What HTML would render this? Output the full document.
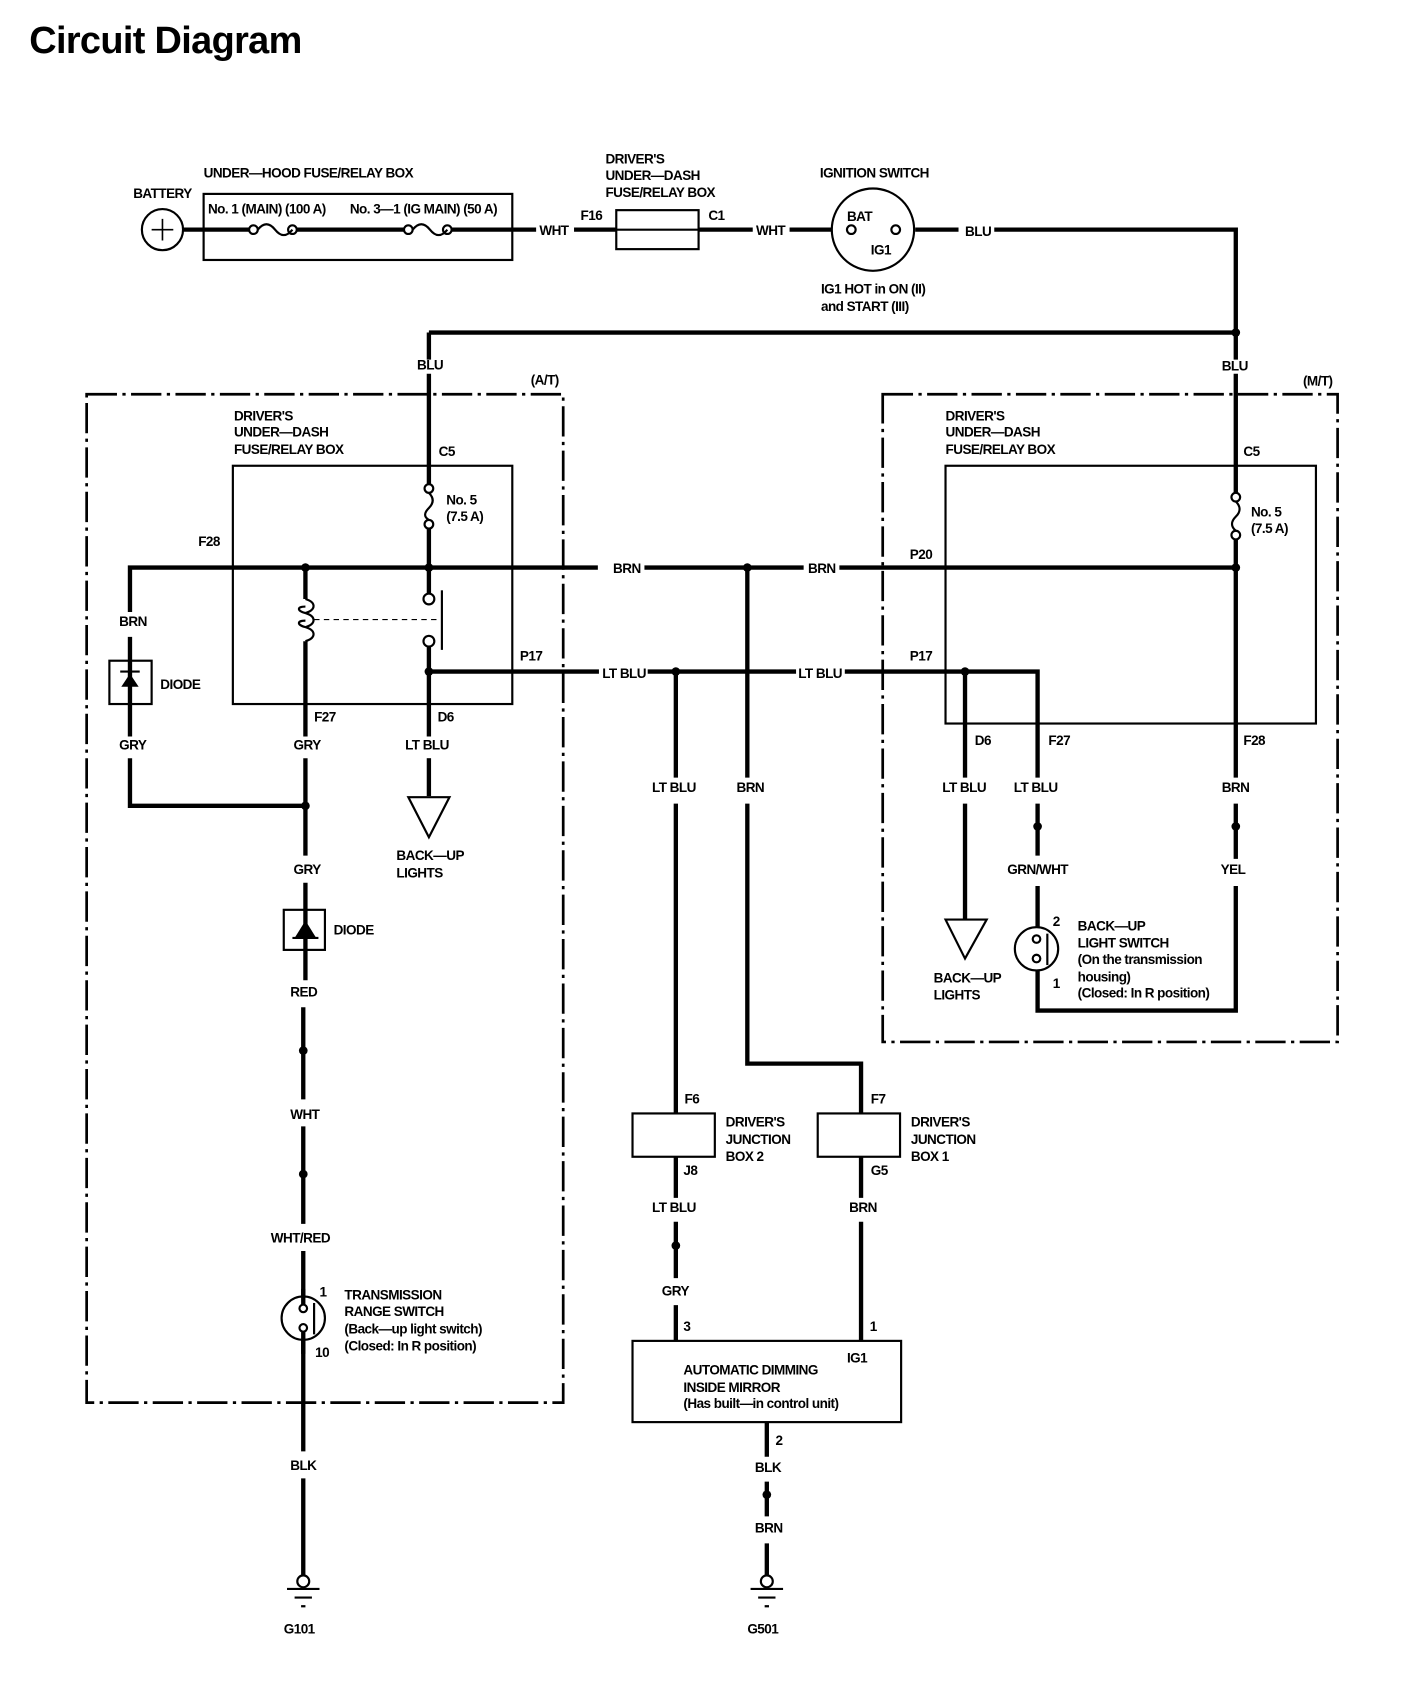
<!DOCTYPE html>
<html><head><meta charset="utf-8"><style>
html,body{margin:0;padding:0;background:#fff;}
svg{display:block;}
text{font-family:"Liberation Sans Narrow","Liberation Sans",sans-serif;font-weight:bold;font-size:12.5px;fill:#000;letter-spacing:-0.5px;}
.w{stroke:#000;stroke-width:4;fill:none;}
.t{stroke:#000;stroke-width:2;fill:none;}
.d{stroke:#000;stroke-width:2.5;fill:none;stroke-dasharray:28,5,3,5;}
</style></head><body>
<svg width="1408" height="1694" viewBox="0 0 1300 1564" xmlns="http://www.w3.org/2000/svg">
<text x="27" y="49" style="font-family:'Liberation Sans',sans-serif;font-size:35px;letter-spacing:-0.6px">Circuit Diagram</text>

<text x="123" y="183">BATTERY</text>
<circle cx="150" cy="212" r="19" class="t"/>
<path d="M140 212h20M150 202v20" stroke="#000" stroke-width="1.5"/>
<text x="188" y="164">UNDER—HOOD FUSE/RELAY BOX</text>
<rect x="188" y="179" width="285" height="61" class="t"/>
<text x="192" y="197">No. 1 (MAIN) (100 A)</text>
<text x="323" y="197">No. 3—1 (IG MAIN) (50 A)</text>
<path class="w" d="M169 212H230M274 212H373M417 212H495"/>
<circle cx="234" cy="212" r="4" class="t"/><circle cx="270" cy="212" r="4" class="t"/>
<path class="t" d="M238 212q8-10 16 0t16 0"/>
<circle cx="377" cy="212" r="4" class="t"/><circle cx="413" cy="212" r="4" class="t"/>
<path class="t" d="M381 212q8-10 16 0t16 0"/>
<text x="498" y="217">WHT</text>
<path class="w" d="M530 212H695"/>
<rect x="569" y="194" width="76" height="36" class="t" style="fill:#fff"/>
<path class="t" d="M569 212H645"/>
<text x="536" y="203">F16</text><text x="654" y="203">C1</text>
<text x="559" y="151">DRIVER'S</text><text x="559" y="166">UNDER—DASH</text><text x="559" y="182">FUSE/RELAY BOX</text>
<text x="698" y="217">WHT</text>
<path class="w" d="M729 212H768"/>
<text x="757" y="164">IGNITION SWITCH</text>
<circle cx="806" cy="212" r="38" class="t"/>
<circle cx="786" cy="212" r="4" class="t" style="fill:#fff"/><circle cx="827" cy="212" r="4" class="t" style="fill:#fff"/>
<text x="782" y="204">BAT</text><text x="804" y="235">IG1</text>
<text x="758" y="271">IG1 HOT in ON (II)</text><text x="758" y="287">and START (III)</text>
<path class="w" d="M845 212H885"/>
<text x="891" y="218">BLU</text>
<path class="w" d="M918 212H1141V332M396 307H1141M396 307V332"/>
<circle cx="1141" cy="307" r="4"/>
<text x="385" y="341">BLU</text><text x="1128" y="342">BLU</text>

<path class="d" d="M80 364H520V1295H80Z"/>
<text x="490" y="355">(A/T)</text>
<path class="d" d="M815 364H1235V962H815Z"/>
<text x="1203" y="356">(M/T)</text>

<rect x="215" y="430" width="258" height="220" class="t"/>
<text x="216" y="388">DRIVER'S</text><text x="216" y="403">UNDER—DASH</text><text x="216" y="419">FUSE/RELAY BOX</text>
<text x="405" y="421">C5</text>
<text x="412" y="466">No. 5</text><text x="412" y="481">(7.5 A)</text>
<path class="w" d="M396 345V447M396 488V524"/>
<circle cx="396" cy="451" r="4" class="t"/><circle cx="396" cy="484" r="4" class="t"/>
<path class="t" d="M396 455q7 7 0 14t0 11"/>
<path class="w" d="M120 565V524H552M595 524H742M775 524H1141"/>
<circle cx="282" cy="524" r="4"/><circle cx="396" cy="524" r="4"/><circle cx="690" cy="524" r="4"/><circle cx="1141" cy="524" r="4"/>
<text x="183" y="504">F28</text><text x="566" y="529">BRN</text><text x="746" y="529">BRN</text><text x="840" y="516">P20</text>
<text x="110" y="578">BRN</text>
<path class="w" d="M120 588V680M120 700V744H282"/>
<rect x="101" y="610" width="39" height="40" class="t"/>
<path d="M112 634h16l-8-12z"/><path d="M111 620h18" stroke="#000" stroke-width="2"/>
<text x="148" y="636">DIODE</text>
<text x="110" y="692">GRY</text>
<path class="w" d="M282 524V553M282 592V680M282 700V790"/>
<path class="t" d="M282 553c10 3 10 10 0 13c-8-2-8-6 0-6M282 566c10 3 10 10 0 13c-8-2-8-6 0-6M282 579c10 3 10 10 0 13"/>
<path d="M290 572H405" stroke="#000" stroke-width="1" stroke-dasharray="5,4"/>
<path class="w" d="M396 524V548M396 597V680"/>
<circle cx="396" cy="553" r="5" class="t"/><circle cx="396" cy="592" r="5" class="t"/>
<path d="M408 545V600" stroke="#000" stroke-width="2"/>
<circle cx="396" cy="620" r="4"/><circle cx="282" cy="744" r="4"/>
<text x="290" y="666">F27</text><text x="404" y="666">D6</text>
<text x="271" y="692">GRY</text><text x="374" y="692">LT BLU</text>
<path class="w" d="M396 700V735"/>
<path class="t" d="M377 736H415L396 773Z"/>
<text x="366" y="794">BACK—UP</text><text x="366" y="810">LIGHTS</text>
<text x="271" y="807">GRY</text>
<path class="w" d="M282 815V905"/>
<rect x="262" y="840" width="38" height="37" class="t"/>
<path d="M272 866h20l-10-16z"/><path d="M270 866h24" stroke="#000" stroke-width="2"/>
<text x="308" y="863">DIODE</text>
<text x="268" y="920">RED</text>
<path class="w" d="M280 930V1015M280 1040V1130M280 1155V1340M280 1365V1455"/>
<circle cx="280" cy="970" r="4"/><circle cx="280" cy="1084" r="4"/>
<text x="268" y="1033">WHT</text><text x="250" y="1147">WHT/RED</text>
<circle cx="280" cy="1217" r="20" class="t" style="fill:#fff"/>
<path class="w" d="M280 1190V1205M280 1230V1250"/>
<circle cx="280" cy="1208" r="3.5" class="t" style="fill:#fff"/><circle cx="280" cy="1226" r="3.5" class="t" style="fill:#fff"/>
<path d="M290 1203V1232" stroke="#000" stroke-width="2"/>
<text x="295" y="1197">1</text><text x="291" y="1253">10</text>
<text x="318" y="1200">TRANSMISSION</text><text x="318" y="1215">RANGE SWITCH</text>
<text x="318" y="1231">(Back—up light switch)</text><text x="318" y="1247">(Closed: In R position)</text>
<text x="268" y="1357">BLK</text>
<circle cx="280" cy="1460" r="5.5" class="t"/>
<path d="M265 1467h30M272 1475h16M278 1483h4" stroke="#000" stroke-width="2"/>
<text x="262" y="1508">G101</text>

<path class="w" d="M396 620H553M598 620H735M780 620H958V718"/>
<circle cx="624" cy="620" r="4"/><circle cx="891" cy="620" r="4"/>
<text x="480" y="610">P17</text><text x="556" y="626">LT BLU</text><text x="737" y="626">LT BLU</text><text x="840" y="610">P17</text>

<rect x="873" y="430" width="342" height="238" class="t"/>
<text x="873" y="388">DRIVER'S</text><text x="873" y="403">UNDER—DASH</text><text x="873" y="419">FUSE/RELAY BOX</text>
<text x="1148" y="421">C5</text>
<text x="1155" y="477">No. 5</text><text x="1155" y="492">(7.5 A)</text>
<path class="w" d="M1141 345V455M1141 498V718M1141 742V793M1141 818V933H958V888"/>
<circle cx="1141" cy="459" r="4" class="t"/><circle cx="1141" cy="494" r="4" class="t"/>
<path class="t" d="M1141 463q7 7 0 14t0 13"/>
<text x="1148" y="688">F28</text><text x="900" y="688">D6</text><text x="968" y="688">F27</text>
<path class="w" d="M891 620V718M891 742V848M958 742V790M958 818V858"/>
<text x="870" y="731">LT BLU</text><text x="936" y="731">LT BLU</text><text x="1128" y="731">BRN</text>
<circle cx="958" cy="763" r="4"/><circle cx="1141" cy="763" r="4"/>
<text x="930" y="807">GRN/WHT</text><text x="1127" y="807">YEL</text>
<path class="t" d="M873 849H911L891 885Z"/>
<text x="862" y="907">BACK—UP</text><text x="862" y="923">LIGHTS</text>
<circle cx="957" cy="876" r="20" class="t" style="fill:#fff"/>
<circle cx="957" cy="867" r="3.5" class="t" style="fill:#fff"/><circle cx="957" cy="885" r="3.5" class="t" style="fill:#fff"/>
<path d="M967 862V891" stroke="#000" stroke-width="2"/>
<text x="972" y="855">2</text><text x="972" y="912">1</text>
<text x="995" y="859">BACK—UP</text><text x="995" y="875">LIGHT SWITCH</text>
<text x="995" y="890">(On the transmission</text><text x="995" y="906">housing)</text><text x="995" y="921">(Closed: In R position)</text>

<path class="w" d="M624 620V718M624 742V1028M624 1068V1106M624 1128V1180M624 1205V1238"/>
<text x="602" y="731">LT BLU</text>
<path class="w" d="M690 524V718M690 742V982H795V1028M795 1068V1106M795 1128V1238"/>
<text x="680" y="731">BRN</text>
<rect x="584" y="1028" width="76" height="40" class="t"/>
<rect x="755" y="1028" width="76" height="40" class="t"/>
<text x="632" y="1019">F6</text><text x="631" y="1085">J8</text>
<text x="804" y="1019">F7</text><text x="804" y="1085">G5</text>
<text x="670" y="1040">DRIVER'S</text><text x="670" y="1056">JUNCTION</text><text x="670" y="1072">BOX 2</text>
<text x="841" y="1040">DRIVER'S</text><text x="841" y="1056">JUNCTION</text><text x="841" y="1072">BOX 1</text>
<text x="602" y="1119">LT BLU</text><text x="784" y="1119">BRN</text>
<circle cx="624" cy="1150" r="4"/>
<text x="611" y="1196">GRY</text>
<text x="631" y="1229">3</text><text x="803" y="1229">1</text>
<rect x="584" y="1238" width="248" height="75" class="t"/>
<text x="631" y="1269">AUTOMATIC DIMMING</text><text x="631" y="1285">INSIDE MIRROR</text><text x="631" y="1300">(Has built—in control unit)</text>
<text x="782" y="1258">IG1</text>
<path class="w" d="M708 1313V1345M708 1368V1400M708 1425V1455"/>
<text x="716" y="1334">2</text>
<text x="697" y="1359">BLK</text>
<circle cx="708" cy="1380" r="4"/>
<text x="697" y="1415">BRN</text>
<circle cx="708" cy="1460" r="5.5" class="t"/>
<path d="M693 1467h30M700 1475h16M706 1483h4" stroke="#000" stroke-width="2"/>
<text x="690" y="1508">G501</text>
</svg>
</body></html>
